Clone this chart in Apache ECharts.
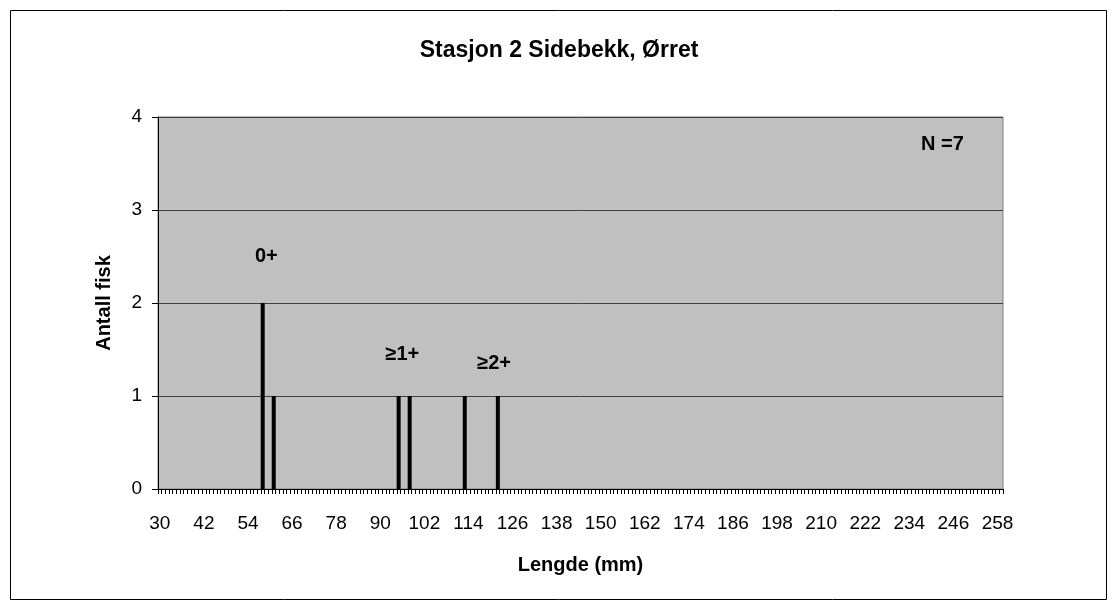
<!DOCTYPE html>
<html>
<head>
<meta charset="utf-8">
<script src="https://cdn.jsdelivr.net/npm/echarts@6/dist/echarts.min.js"></script>
<style>
  html, body { margin: 0; padding: 0; background: #fff; }
  #chart { width: 1118px; height: 610px; }
</style>
</head>
<body>
<div id="chart"></div>
<script>
// length classes on the x axis (mm)
const firstLength = 30;
const lastLength = 259;
// measured fish
const lengths = [58, 61, 95, 98, 113, 122];
const counts = [2, 1, 1, 1, 1, 1];
const yTicks = [0, 1, 2, 3, 4];
// age-group annotations: [length, height, text]
const ageLabels = [
  ['59', 2.5, '0+'],
  ['96', 1.45, '≥1+'],
  ['121', 1.35, '≥2+']
];

const categories = [];
for (let l = firstLength; l <= lastLength; l++) categories.push(String(l));

const barData = lengths.map((l, i) => [String(l), counts[i]]);

const chart = echarts.init(document.getElementById('chart'));
const font = 'Liberation Sans, Arial, sans-serif';

chart.setOption({
  animation: false,
  backgroundColor: '#fff',
  title: {
    text: 'Stasjon 2 Sidebekk, Ørret',
    left: 'center',
    top: 34,
    textStyle: { fontFamily: font, fontSize: 23, fontWeight: 'bold', color: '#000' }
  },
  graphic: [{
    type: 'rect',
    shape: { x: 10.5, y: 10.5, width: 1096, height: 589 },
    style: { fill: 'none', stroke: '#000', lineWidth: 1 },
    silent: true
  }],
  grid: {
    left: 158, top: 117, right: 115, bottom: 121,
    show: true,
    backgroundColor: '#c0c0c0',
    borderColor: '#808080',
    borderWidth: 1
  },
  xAxis: {
    type: 'category',
    data: categories,
    boundaryGap: true,
    name: 'Lengde (mm)',
    nameLocation: 'middle',
    nameGap: 66,
    nameTextStyle: { fontFamily: font, fontSize: 20, fontWeight: 'bold', color: '#000' },
    axisLine: { lineStyle: { color: '#000', width: 1 } },
    axisTick: { show: true, interval: 0, length: 5, lineStyle: { color: '#000' } },
    axisLabel: { interval: 11, margin: 25, fontFamily: font, fontSize: 19, color: '#000' },
    splitLine: { show: false }
  },
  yAxis: {
    type: 'value',
    min: yTicks[0],
    max: yTicks[yTicks.length - 1],
    interval: 1,
    name: 'Antall fisk',
    nameLocation: 'middle',
    nameGap: 44,
    nameTextStyle: { fontFamily: font, fontSize: 20, fontWeight: 'bold', color: '#000' },
    axisLine: { show: true, lineStyle: { color: '#000', width: 1 } },
    axisTick: { show: true, length: 6, lineStyle: { color: '#000' } },
    axisLabel: { margin: 16, fontFamily: font, fontSize: 19, color: '#000' },
    splitLine: { lineStyle: { color: '#404040', width: 1 } }
  },
  series: [{
    type: 'bar',
    data: barData,
    barWidth: 4,
    itemStyle: { color: '#000' },
    markPoint: {
      symbol: 'circle',
      symbolSize: 0,
      label: {
        show: true,
        position: 'inside',
        fontFamily: font,
        fontSize: 20,
        fontWeight: 'bold',
        color: '#000',
        formatter: p => p.name
      },
      data: ageLabels.map(a => ({ name: a[2], coord: [a[0], a[1]] }))
        .concat([{ name: 'N =7', coord: ['243', 3.7] }])
    }
  }]
});
</script>
</body>
</html>
